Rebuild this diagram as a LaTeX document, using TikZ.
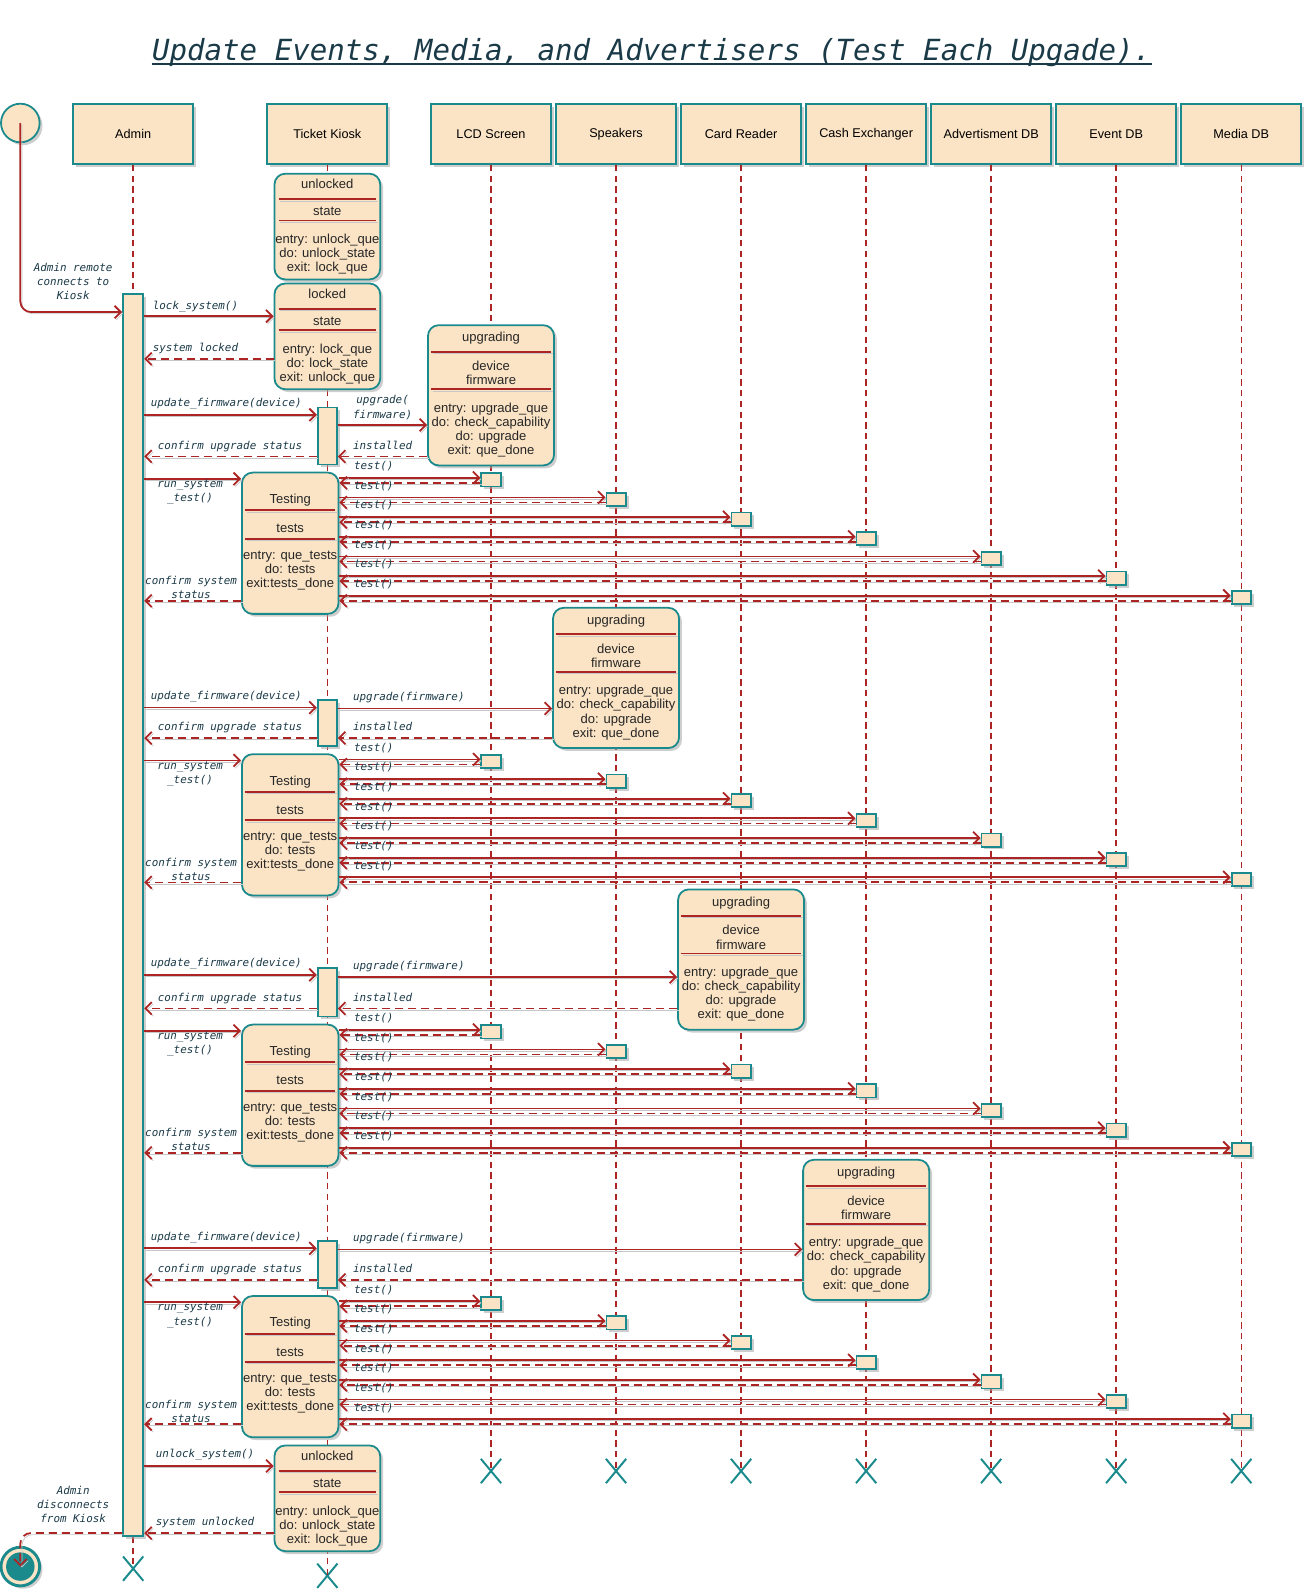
\documentclass[tikz,border=0pt]{standalone}
\usepackage{fontspec}
\setmainfont{Liberation Sans}
\newfontfamily\msgfont{DejaVu Sans Mono}[ItalicFont={DejaVu Sans Mono Oblique}]
\usetikzlibrary{arrows.meta,shadows,shapes.misc}
\definecolor{boxfill}{HTML}{FBE4C5}
\definecolor{boxline}{HTML}{1B8A8C}
\definecolor{msgred}{HTML}{AD2424}
\definecolor{ink}{HTML}{1B3A48}

% kiosk state box: name, top y, title, entry lines
\newcommand{\kioskstate}[4]{%
  \node[stbox, minimum width=2.08cm, minimum height=2.08cm, anchor=north] (#1) at (322,#2) {};
  \node[sttxt] (#1-t) at (322,#2+11) {#3};
  \draw[sepline] (274,#2+26) -- (370,#2+26);
  \node[sttxt] (#1-s) at (322,#2+38) {state};
  \draw[sepline] (274,#2+47) -- (370,#2+47);
  \node[sttxt] (#1-e) at (322,#2+80) {#4};
}

\begin{document}
\begin{tikzpicture}[
    x=0.02cm, y=-0.02cm,
    every node/.style={font=\fontsize{7.1}{7.9}\selectfont},   % box text
    boxshadow/.style={drop shadow={shadow xshift=1.6pt, shadow yshift=-1.6pt, fill=black!35, opacity=.55}},
    part/.style={                           % participant heads
        draw=boxline, fill=boxfill, line width=1pt,
        minimum width=2.36cm, minimum height=1.18cm, inner sep=0, boxshadow},
    stbox/.style={draw=boxline, fill=boxfill, line width=1pt, rounded corners=6pt, inner sep=0, boxshadow},
    acti/.style={draw=boxline, fill=boxfill, line width=1pt, inner sep=0, minimum width=0.38cm, boxshadow},
    sq/.style={acti, minimum height=0.26cm},
    sttxt/.style={inner sep=0, align=center, text=black!85, font=\fontsize{7.3}{7.9}\selectfont},
    lshade/.style={preaction={draw=black!22, transform canvas={shift={(0.9pt,-0.9pt)}}}},
    sepline/.style={draw=msgred, line width=1pt, lshade},
    life/.style={draw=msgred, line width=0.85pt, dash pattern=on 3.5pt off 2.5pt},
    msg/.style={draw=msgred, line width=1pt, -{Straight Barb[length=3.5pt,width=7pt]}, lshade},
    ret/.style={msg, dash pattern=on 4.5pt off 2.8pt},
    lbl/.style={font=\msgfont\itshape\fontsize{6.1}{7.9}\selectfont, text=ink, inner sep=0},
    xmark/.style={cross out, draw=boxline, line width=1.1pt, minimum width=0.36cm, minimum height=0.44cm, inner sep=0}
]
\useasboundingbox (0,0) rectangle (1285,1568);

% Title
\node[lbl, font=\msgfont\itshape\fontsize{16.3}{18}\selectfont] (ttl) at (641,52) {Update Events, Media, and Advertisers (Test Each Upgade).};
\draw[ink, line width=1.2pt] ([yshift=-2pt]ttl.base west) -- ([yshift=-2pt]ttl.base east);

% Participants
\node[part] (adm) at (131,132) {Admin};
\node[part] (kio) at (322,132) {Ticket Kiosk};
\node[part] (lcd) at (483,132) {LCD Screen};
\node[part] (spk) at (606,132) {Speakers};
\node[part] (crd) at (729,132) {Card Reader};
\node[part] (csh) at (852,132) {Cash Exchanger};
\node[part] (adv) at (975,132) {Advertisment DB};
\node[part] (evt) at (1098,132) {Event DB};
\node[part] (med) at (1221,132) {Media DB};
\node[circle, draw=boxline, fill=boxfill, line width=1pt, minimum size=0.76cm, inner sep=0, boxshadow] (start) at (20,121) {};

% Lifelines
\foreach \n/\px in {lcd/483, spk/606, crd/729, csh/852, adv/975, evt/1098, med/1221} {
    \node[xmark] (x\n) at (\px,1447) {};
    \draw[life] (\n.south) -- (x\n.center);
}
\node[xmark] (xkio) at (322,1550) {};
\draw[life] (kio.south) -- (xkio.center);
\node[xmark] (xadm) at (131,1543) {};
\draw[life] (adm.south) -- (xadm.center);

\node[acti, minimum width=0.4cm, minimum height=24.44cm, anchor=north] (admbar) at (131,288) {};

% Connect and lock
\draw[msg, rounded corners=6pt] (start.center) |- (admbar.west |- 0,307);
\node[lbl, align=center] (lblhi) at (72,277) {Admin remote\\connects to\\Kiosk};

\kioskstate{unl1}{170}{unlocked}{entry: unlock\_que\\do: unlock\_state\\exit: lock\_que}
\kioskstate{lck}{278}{locked}{entry: lock\_que\\do: lock\_state\\exit: unlock\_que}

\draw[msg] (admbar.east |- 0,311) -- (lck.west |- 0,311);
\node[lbl, anchor=base west] (lbllock) at (150,304) {lock\_system()};
\draw[ret] (lck.west |- 0,353) -- (admbar.east |- 0,353);
\node[lbl, anchor=base west] (lbllocked) at (150,346) {system locked};

% Upgrade + test cycles
\foreach \c/\T/\U/\D/\A/\G/\L in {
    1/464/319/483/408/418/{upgrade(\\firmware)},
    2/741/597/606/696/697/{upgrade(firmware)},
    3/1007/874/729/959/961/{upgrade(firmware)},
    4/1274/1140/852/1228/1229/{upgrade(firmware)}} {
    % device upgrade state
    \node[stbox, minimum width=2.48cm, minimum height=2.76cm, anchor=north] (upg\c) at (\D,\U) {};
    \node[sttxt] (upg\c-t) at (\D,\U+14) {upgrading};
    \draw[sepline] (\D-59,\U+27) -- (\D+59,\U+27);
    \node[sttxt] (upg\c-s) at (\D,\U+48) {device\\firmware};
    \draw[sepline] (\D-59,\U+64) -- (\D+59,\U+64);
    \node[sttxt] (upg\c-e) at (\D,\U+104) {entry: upgrade\_que\\do: check\_capability\\do: upgrade\\exit: que\_done};
    % kiosk activation
    \node[acti, anchor=north, minimum height={(\T-\A)*0.02cm}] (act\c) at (322,\A-8) {};
    % testing state
    \node[stbox, minimum width=1.9cm, minimum height=2.78cm, anchor=north] (tst\c) at (285.5,\T) {};
    \node[sttxt] (tst\c-t) at (285.5,\T+28) {Testing};
    \draw[sepline] (241,\T+38) -- (330,\T+38);
    \node[sttxt] (tst\c-s) at (285.5,\T+56) {tests};
    \draw[sepline] (241,\T+66) -- (330,\T+66);
    \node[sttxt] (tst\c-e) at (285.5,\T+97) {entry: que\_tests\\do: tests\\exit:tests\_done};
    % messages
    \draw[msg] (admbar.east |- 0,\A) -- (act\c.west |- 0,\A);
    \node[lbl, anchor=base west] (upd\c) at (148,\A-8) {update\_firmware(device)};
    \draw[msg] (act\c.east |- 0,\G) -- (upg\c.west |- 0,\G);
    \node[lbl, anchor=south west, align=center] (upl\c) at (347,\G-5) {\L};
    \draw[ret] (upg\c.west |- 0,\T-15) -- (act\c.east |- 0,\T-15);
    \node[lbl, anchor=base west] (ins\c) at (347,\T-22) {installed};
    \draw[ret] (act\c.west |- 0,\T-15) -- (admbar.east |- 0,\T-15);
    \node[lbl, anchor=base west] (cup\c) at (155,\T-22) {confirm upgrade status};
    \draw[msg] (admbar.east |- 0,\T+7) -- (tst\c.west |- 0,\T+7);
    \node[lbl, align=center] (run\c) at (187,\T+20) {run\_system\\\_test()};
    % one test per device
    \foreach \dx [count=\i from 0] in {483,606,729,852,975,1098,1221} {
        \pgfmathsetmacro\yy{\T+6+19.33*\i}
        \node[sq] (sq\c\i) at (\dx,\yy+2) {};
        \draw[msg] (tst\c.east |- 0,\yy) -- (sq\c\i.west |- 0,\yy);
        \node[lbl, anchor=base west] (tl\c\i) at (348,\yy-8) {test()};
        \draw[ret] (sq\c\i.west |- 0,\yy+5) -- (tst\c.east |- 0,\yy+5);
    }
    \draw[ret] (tst\c.west |- 0,\T+127) -- (admbar.east |- 0,\T+127);
    \node[lbl, align=center] (csy\c) at (188,\T+114) {confirm system\\status};
}

% Unlock and disconnect
\kioskstate{unl2}{1421}{unlocked}{entry: unlock\_que\\do: unlock\_state\\exit: lock\_que}
\draw[msg] (admbar.east |- 0,1442) -- (unl2.west |- 0,1442);
\node[lbl, anchor=base west] (lblunlock) at (153,1434) {unlock\_system()};
\draw[ret] (unl2.west |- 0,1508) -- (admbar.east |- 0,1508);
\node[lbl, anchor=base west] (lblunlocked) at (153,1501) {system unlocked};

\node[circle, draw=boxline, fill=boxfill, line width=1.6pt, minimum size=0.76cm, inner sep=0, boxshadow] (fin) at (20,1541) {};
\node[circle, fill=boxline, minimum size=0.56cm, inner sep=0] (fincore) at (fin.center) {};
\draw[ret, rounded corners=6pt] (admbar.west |- 0,1508) -| (fin.center);
\node[lbl, align=center] (lblbye) at (72,1480) {Admin\\disconnects\\from Kiosk};

\end{tikzpicture}
\end{document}
